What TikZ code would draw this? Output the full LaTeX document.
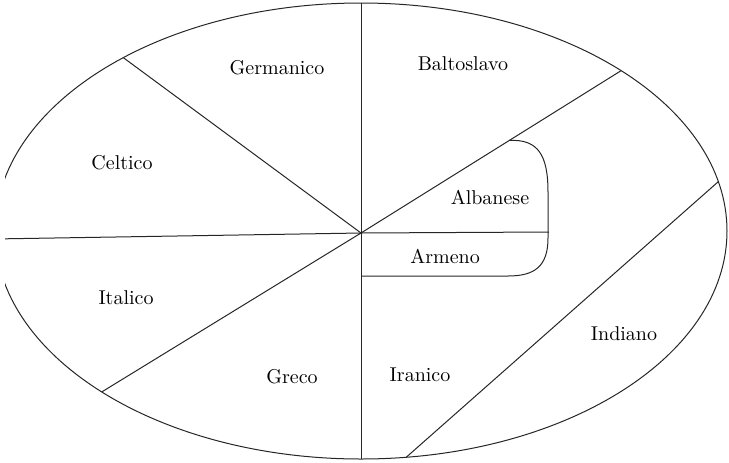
\documentclass[tikz,border=0pt]{standalone}
\usepackage{tikz}
\usetikzlibrary{calc}

\begin{document}
\begin{tikzpicture}[
    x=0.5pt, y=-0.5pt,
    rim/.style={line width=0.5pt, black!85},
    divide/.style={line width=0.5pt, black!85},
    lang/.style={font=\fontsize{10}{12}\selectfont},
]
\useasboundingbox (0,0) rectangle (729,462);
\clip (5,0) rectangle (729,462);

% Outline
\coordinate (centre) at (361,231);
\coordinate (hub) at (361,233);
\draw[rim] (centre) ellipse [x radius=366, y radius=228];

% Points on the rim
\path (centre) +(-90:366 and 228) coordinate (top)
      (centre) +(90:366 and 228) coordinate (bottom)
      (centre) +(178:366 and 228) coordinate (west)
      (centre) +(-130.5:366 and 228) coordinate (nw)
      (centre) +(-44.7:366 and 228) coordinate (ne)
      (centre) +(135.1:366 and 228) coordinate (sw)
      (centre) +(-12.5:366 and 228) coordinate (ind1)
      (centre) +(82.9:366 and 228) coordinate (ind2);

% Dividers from the hub
\draw[divide] (top) -- (bottom);
\draw[divide] (hub) -- (nw);
\draw[divide] (hub) -- (ne);
\draw[divide] (hub) -- (west);
\draw[divide] (hub) -- (sw);
\draw[divide] (ind1) -- (ind2);

% Albanese and Armeno
\coordinate (alb) at ($(hub)!0.57!(ne)$);
\coordinate (arm) at (361,276);
\draw[divide] (hub) -- (549,232);
\draw[divide] (alb) .. controls (538,139) and (548,155) .. (548,192) -- (548,238)
    .. controls (548,266) and (535,276) .. (508,276) -- (arm);

% Labels
\node[lang] (germanico) at (277,68) {Germanico};
\node[lang] (baltoslavo) at (463,64) {Baltoslavo};
\node[lang] (celtico) at (122,163) {Celtico};
\node[lang] (albanese) at (490,197) {Albanese};
\node[lang] (armeno) at (445,256) {Armeno};
\node[lang] (italico) at (126,298) {Italico};
\node[lang] (greco) at (292,377) {Greco};
\node[lang] (iranico) at (420,375) {Iranico};
\node[lang] (indiano) at (624,334) {Indiano};

\end{tikzpicture}
\end{document}
